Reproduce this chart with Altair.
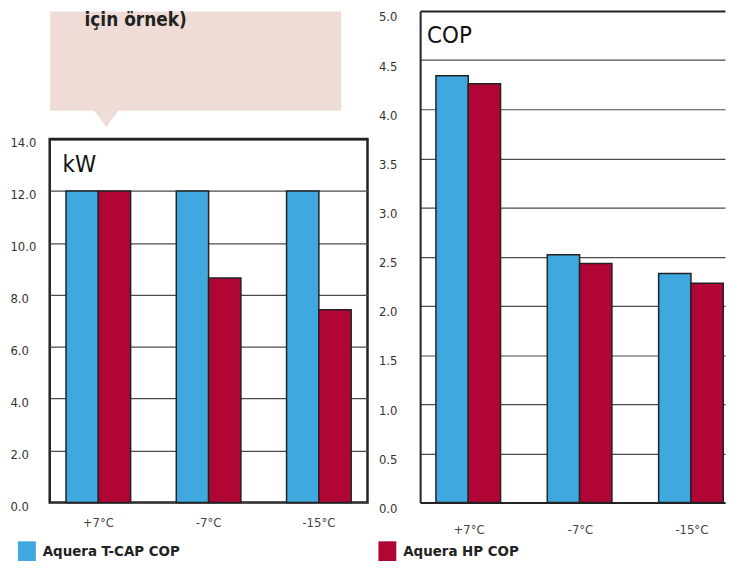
import altair as alt
import pandas as pd

# ---------------- data ----------------
temps = ["+7°C", "-7°C", "-15°C"]
series = ["Aquera T-CAP COP", "Aquera HP COP"]
kw_tcap = [12.0, 12.0, 12.0]
kw_hp = [12.0, 8.65, 7.42]
cop_tcap = [4.34, 2.52, 2.33]
cop_hp = [4.26, 2.43, 2.23]
kw_ticks = [0, 2, 4, 6, 8, 10, 12, 14]
cop_ticks = [0, 0.5, 1.0, 1.5, 2.0, 2.5, 3.0, 3.5, 4.0, 4.5, 5.0]
panel_titles = ["kW", "COP"]
callout_text = ["için örnek)"]
colors = ["#3FA9DF", "#B00535"]

FONT = "Liberation Sans Narrow, DejaVu Sans Condensed, Roboto, sans-serif"
PINK = "#F0DCD6"


def frame(a, b):
    rows = []
    for t, va, vb in zip(temps, a, b):
        rows.append({"temp": t, "series": series[0], "value": va})
        rows.append({"temp": t, "series": series[1], "value": vb})
    return pd.DataFrame(rows)


kw_df = frame(kw_tcap, kw_hp)
cop_df = frame(cop_tcap, cop_hp)

color_scale = alt.Scale(domain=series, range=colors)


def legend(value, lx, ly):
    return alt.Legend(
        values=[value], orient="none", legendX=lx, legendY=ly, title=None,
        symbolType="M-1,-1.1H1V1.1H-1Z", symbolSize=324, symbolStrokeWidth=0,
        symbolOpacity=1, labelFont=FONT, labelFontSize=15, labelFontWeight="bold",
        labelColor="#222", labelOffset=7, padding=0, labelLimit=400,
    )


def y_axis(values, pad, offset, domain, top):
    kw = dict(
        values=values, format=".1f", title=None, ticks=False, tickSize=0,
        labelAlign="left", labelPadding=pad, labelBaseline="middle",
        labelOffset=offset, labelFont=FONT, labelFontSize=13, labelColor="#333",
        grid=True, domain=domain,
        gridColor={"condition": {"test": f"datum.value === {top}", "value": "#222"},
                   "value": "#4a4a4a"},
        gridWidth={"condition": {"test": f"datum.value === {top}", "value": 2},
                   "value": 1.2},
    )
    if domain:
        kw.update(domainColor="#222", domainWidth=2)
    return alt.Axis(**kw)


def x_axis(pad, domain):
    kw = dict(
        title=None, labelAngle=0, ticks=False, tickSize=0, domain=domain,
        labelPadding=pad, labelBaseline="middle", labelFont=FONT,
        labelFontSize=13, labelColor="#444", grid=False,
    )
    if domain:
        kw.update(domainColor="#222", domainWidth=2)
    return alt.Axis(**kw)


# ---------------- kW panel ----------------
kw_bars = alt.Chart(kw_df).mark_bar(stroke="#222", strokeWidth=1.5).encode(
    x=alt.X("temp:N", sort=temps,
            scale=alt.Scale(paddingInner=0.414, paddingOuter=0.148),
            axis=x_axis(20, False)),
    xOffset=alt.XOffset("series:N", sort=series,
                        scale=alt.Scale(paddingInner=0, paddingOuter=0)),
    y=alt.Y("value:Q", scale=alt.Scale(domain=[0, 14], nice=False),
            axis=y_axis(kw_ticks, 40, 4, False, 14)),
    color=alt.Color("series:N", scale=color_scale,
                    legend=legend(series[0], -32, 406)),
)
kw_title = alt.Chart(pd.DataFrame({"t": [panel_titles[0]]})).mark_text(
    align="left", baseline="alphabetic", font=FONT, fontSize=24, color="#111"
).encode(text="t:N", x=alt.value(13), y=alt.value(33))

kw_chart = alt.layer(kw_bars, kw_title).properties(
    width=320, height=366,
    view=alt.ViewBackground(stroke="#222", strokeWidth=2.5, fill="white"),
)

# ---------------- callout box ----------------
callout_df = pd.DataFrame({"t": callout_text})
callout_label = alt.Chart(callout_df).mark_text(
    align="left", baseline="alphabetic", font=FONT, fontSize=19,
    fontWeight="bold", color="#222",
).encode(text="t:N", x=alt.value(35), y=alt.value(15))
pointer = alt.Chart(callout_df).mark_point(
    shape="M-1,-0.68L1,-0.68L0,0.68Z", size=625, filled=True, fill=PINK,
    opacity=1, strokeWidth=0,
).encode(x=alt.value(57), y=alt.value(108.5))
callout = alt.layer(callout_label, pointer).properties(
    width=293, height=100,
    view=alt.ViewBackground(fill=PINK, stroke="transparent"),
)

left_col = alt.vconcat(callout, kw_chart, spacing=29, bounds="flush").resolve_legend(
    color="independent")

# ---------------- COP panel ----------------
cop_bars = alt.Chart(cop_df).mark_bar(stroke="#222", strokeWidth=1.5).encode(
    x=alt.X("temp:N", sort=temps,
            scale=alt.Scale(paddingInner=0.404, paddingOuter=0.071, align=1),
            axis=x_axis(27, True)),
    xOffset=alt.XOffset("series:N", sort=series,
                        scale=alt.Scale(paddingInner=0, paddingOuter=0)),
    y=alt.Y("value:Q", scale=alt.Scale(domain=[0, 5], nice=False),
            axis=y_axis(cop_ticks, 42, 6, True, 5)),
    color=alt.Color("series:N", scale=color_scale,
                    legend=legend(series[1], -42, 535)),
)
cop_title = alt.Chart(pd.DataFrame({"t": [panel_titles[1]]})).mark_text(
    align="left", baseline="alphabetic", font=FONT, fontSize=24, color="#111"
).encode(text="t:N", x=alt.value(7), y=alt.value(32))

cop_chart = alt.layer(cop_bars, cop_title).properties(
    width=307, height=495,
    view=alt.ViewBackground(stroke="transparent", fill="white"),
)

chart = alt.hconcat(left_col, cop_chart, spacing=8, bounds="full").resolve_legend(
    color="independent"
).properties(padding=0, background="white")

chart.save("out.html", embed_options={"renderer": "svg", "actions": False})
